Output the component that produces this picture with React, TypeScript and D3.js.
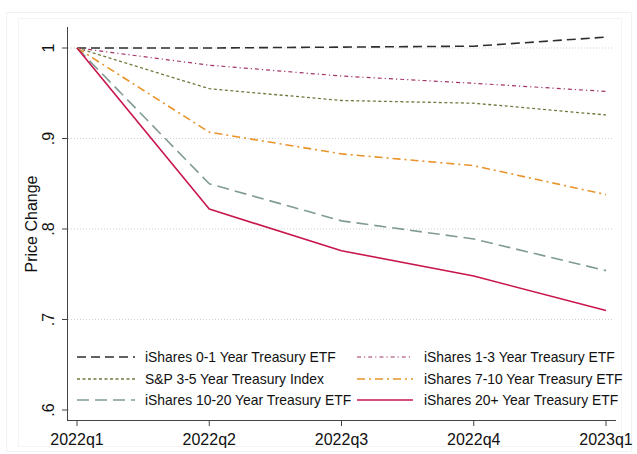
import React, { useEffect, useRef } from 'react';
import * as d3 from 'd3';

// Quarters on the x axis
const QUARTERS = ['2022q1', '2022q2', '2022q3', '2022q4', '2023q1'];

// Price change relative to 2022q1
const ISH_0_1 = [1, 1.0, 1.001, 1.002, 1.012];
const ISH_1_3 = [1, 0.981, 0.969, 0.961, 0.952];
const SP_3_5 = [1, 0.955, 0.942, 0.939, 0.926];
const ISH_7_10 = [1, 0.907, 0.883, 0.870, 0.838];
const ISH_10_20 = [1, 0.850, 0.809, 0.789, 0.754];
const ISH_20P = [1, 0.822, 0.776, 0.748, 0.710];

const Y_TICKS = [0.6, 0.7, 0.8, 0.9, 1];
const Y_TICK_LABELS = ['.6', '.7', '.8', '.9', '1'];

const SERIES_NAMES = [
  'iShares 0-1 Year Treasury ETF',
  'iShares 1-3 Year Treasury ETF',
  'S&P 3-5 Year Treasury Index',
  'iShares 7-10 Year Treasury ETF',
  'iShares 10-20 Year Treasury ETF',
  'iShares 20+ Year Treasury ETF',
];

const FONT = '"Liberation Sans", Arial, sans-serif';

type Style = { color: string; dash: string | null; width: number };

const STYLES: Style[] = [
  { color: '#2e2e2e', dash: '9 5', width: 1.6 },
  { color: '#a3356b', dash: '4 3 1.2 3', width: 1.2 },
  { color: '#6f7b3c', dash: '3 2.5', width: 1.3 },
  { color: '#e8942a', dash: '8 4 2 4', width: 1.6 },
  { color: '#809b95', dash: '12 6', width: 1.6 },
  { color: '#c8164c', dash: null, width: 1.6 },
];

export default function App() {
  const svgRef = useRef<SVGSVGElement>(null);

  useEffect(() => {
    document.body.style.margin = '0';
    const svg = d3.select(svgRef.current);
    svg.selectAll('*').remove();

    const data = [ISH_0_1, ISH_1_3, SP_3_5, ISH_7_10, ISH_10_20, ISH_20P];

    const x = d3.scalePoint<string>().domain(QUARTERS).range([77, 606]);
    const y = d3.scaleLinear().domain([0.6, 1]).range([410, 48]);

    // faint graph / plot region borders
    svg.append('rect').attr('x', 6.5).attr('y', 12.5).attr('width', 625).attr('height', 439)
      .attr('fill', 'none').attr('stroke', '#f1f1f1');
    svg.append('rect').attr('x', 18.5).attr('y', 18.5).attr('width', 603).attr('height', 428)
      .attr('fill', 'none').attr('stroke', '#f4f4f4');

    // grid lines
    svg.append('g').selectAll('line').data(Y_TICKS).join('line')
      .attr('x1', 68).attr('x2', 614)
      .attr('y1', d => y(d)).attr('y2', d => y(d))
      .attr('stroke', '#cfcfcf').attr('stroke-width', 1)
      .attr('stroke-dasharray', '1 2');

    // series lines
    const line = d3.line<number>()
      .x((_, i) => x(QUARTERS[i]) as number)
      .y(d => y(d));

    data.forEach((vals, i) => {
      const s = STYLES[i];
      svg.append('path')
        .datum(vals)
        .attr('d', line)
        .attr('fill', 'none')
        .attr('stroke', s.color)
        .attr('stroke-width', s.width)
        .attr('stroke-dasharray', s.dash)
        .attr('stroke-linejoin', 'round');
    });

    // legend box (white, covers the bottom grid line)
    svg.append('rect').attr('x', 70).attr('y', 338).attr('width', 544).attr('height', 76)
      .attr('fill', '#fff');

    const rowY = [357, 379, 400];
    const colSym = [[77, 135], [357, 413]];
    const colText = [145, 424];
    SERIES_NAMES.forEach((name, i) => {
      const col = i % 2;
      const row = Math.floor(i / 2);
      const s = STYLES[i];
      svg.append('line')
        .attr('x1', colSym[col][0]).attr('x2', colSym[col][1])
        .attr('y1', rowY[row]).attr('y2', rowY[row])
        .attr('stroke', s.color).attr('stroke-width', s.width)
        .attr('stroke-dasharray', s.dash);
      svg.append('text')
        .attr('x', colText[col]).attr('y', rowY[row] + 5)
        .attr('font-family', FONT).attr('font-size', 13.9).attr('fill', '#111')
        .text(name);
    });

    // axes
    svg.append('line').attr('x1', 67.5).attr('x2', 67.5).attr('y1', 27).attr('y2', 420.5)
      .attr('stroke', '#444').attr('stroke-width', 1);
    svg.append('line').attr('x1', 67).attr('x2', 616).attr('y1', 420.5).attr('y2', 420.5)
      .attr('stroke', '#444').attr('stroke-width', 1);

    svg.append('g').selectAll('line').data(Y_TICKS).join('line')
      .attr('x1', 62).attr('x2', 67.5)
      .attr('y1', d => y(d)).attr('y2', d => y(d))
      .attr('stroke', '#444');
    svg.append('g').selectAll('text').data(Y_TICKS).join('text')
      .attr('transform', d => `translate(54,${y(d)}) rotate(-90)`)
      .attr('text-anchor', 'middle')
      .attr('font-family', FONT).attr('font-size', 16).attr('fill', '#111')
      .text((_, i) => Y_TICK_LABELS[i]);

    svg.append('g').selectAll('line').data(QUARTERS).join('line')
      .attr('x1', d => x(d) as number).attr('x2', d => x(d) as number)
      .attr('y1', 420.5).attr('y2', 426)
      .attr('stroke', '#444');
    svg.append('g').selectAll('text').data(QUARTERS).join('text')
      .attr('x', d => x(d) as number).attr('y', 445)
      .attr('text-anchor', 'middle')
      .attr('font-family', FONT).attr('font-size', 16).attr('fill', '#111')
      .text(d => d);

    svg.append('text')
      .attr('transform', 'translate(37,224) rotate(-90)')
      .attr('text-anchor', 'middle')
      .attr('font-family', FONT).attr('font-size', 16).attr('fill', '#111')
      .text('Price Change');
  }, []);

  return (
    <svg
      ref={svgRef}
      width={637}
      height={454}
      style={{ display: 'block', background: '#fff' }}
    />
  );
}
